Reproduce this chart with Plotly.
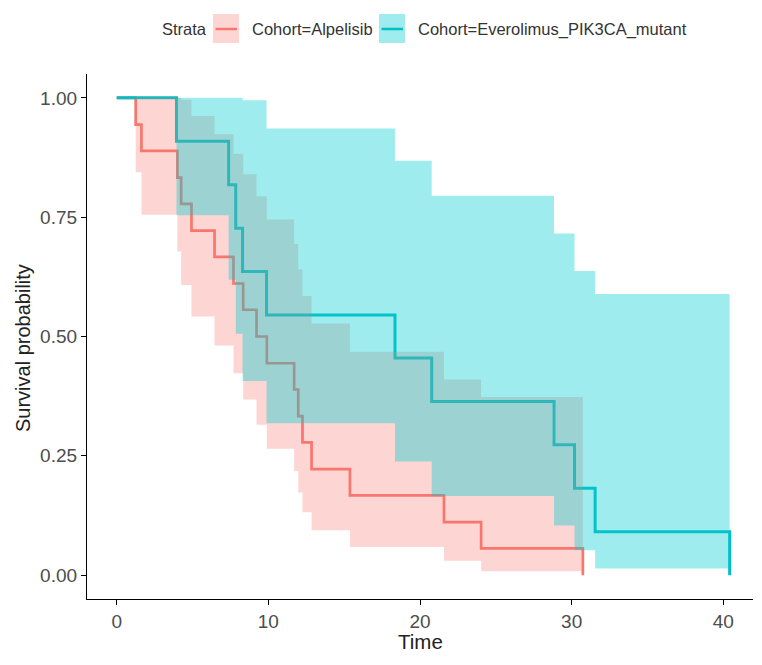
import plotly.graph_objects as go

# ---------------- data ----------------
# Alpelisib cohort: event times, survival after each event, 95% CI after each event
alp_time = [1.25, 1.63, 4.0, 4.25, 4.93, 6.45, 7.7, 8.34, 9.22, 9.9, 11.7, 11.97,
            12.25, 12.85, 15.38, 21.58, 24.03, 30.74]
alp_surv = [0.944, 0.889, 0.833, 0.778, 0.722, 0.667, 0.611, 0.556, 0.500, 0.444,
            0.389, 0.333, 0.278, 0.222, 0.167, 0.111, 0.056, 0.000]
alp_upper = [1.0, 1.0, 1.0, 0.996, 0.962, 0.924, 0.883, 0.840, 0.794, 0.745,
             0.694, 0.641, 0.585, 0.527, 0.468, 0.410, 0.373]
alp_lower = [0.844, 0.755, 0.678, 0.608, 0.542, 0.481, 0.423, 0.368, 0.315, 0.265,
             0.218, 0.173, 0.132, 0.094, 0.059, 0.030, 0.008]

# Everolimus PIK3CA mutant cohort
eve_time = [3.94, 7.38, 7.85, 8.3, 9.88, 18.35, 20.77, 28.84, 30.19, 31.55, 40.42]
eve_surv = [0.909, 0.818, 0.727, 0.636, 0.545, 0.455, 0.364, 0.273, 0.182, 0.091, 0.000]
eve_upper = [1.0, 1.0, 1.0, 0.995, 0.936, 0.868, 0.795, 0.716, 0.637, 0.589]
eve_lower = [0.754, 0.619, 0.506, 0.407, 0.318, 0.238, 0.166, 0.104, 0.052, 0.014]

x_ticks = [0, 10, 20, 30, 40]
y_ticks = [0.0, 0.25, 0.5, 0.75, 1.0]
y_tick_text = ["0.00", "0.25", "0.50", "0.75", "1.00"]
strata_names = ["Cohort=Alpelisib", "Cohort=Everolimus_PIK3CA_mutant"]

RED = "#F8766D"
TEAL = "#00BFC4"
RED_FILL = "rgba(248,118,109,0.30)"
TEAL_FILL = "rgba(0,205,210,0.38)"

W, H = 762, 665
ML, MR, MT, MB = 87, 9, 74, 66
PW, PH = W - ML - MR, H - MT - MB


def px(X):
    return (X - ML) / PW


def py(Y):
    return (H - MB - Y) / PH


def curve(times, surv):
    return [0] + list(times), [1.0] + list(surv)


def ribbon(times, upper, lower):
    starts = [0] + list(times[:-1])
    ends = list(times)
    U = [1.0] + list(upper)
    L = [1.0] + list(lower)
    xs, ys = [], []
    for s, e, u in zip(starts, ends, U):
        xs += [s, e]
        ys += [u, u]
    for s, e, l in reversed(list(zip(starts, ends, L))):
        xs += [e, s]
        ys += [l, l]
    xs.append(xs[0])
    ys.append(ys[0])
    return xs, ys


fig = go.Figure()

# curves first (ribbons are drawn over them, as in the reference)
cx, cy = curve(alp_time, alp_surv)
fig.add_trace(go.Scatter(x=cx, y=cy, mode="lines", line=dict(color=RED, width=2.7, shape="hv"),
                         name=strata_names[0], hoverinfo="skip"))
cx, cy = curve(eve_time, eve_surv)
fig.add_trace(go.Scatter(x=cx, y=cy, mode="lines", line=dict(color=TEAL, width=3, shape="hv"),
                         name=strata_names[1], hoverinfo="skip"))

rx, ry = ribbon(alp_time, alp_upper, alp_lower)
fig.add_trace(go.Scatter(x=rx, y=ry, mode="lines", fill="toself", fillcolor=RED_FILL,
                         line=dict(width=0, color=RED_FILL), hoverinfo="skip"))
rx, ry = ribbon(eve_time, eve_upper, eve_lower)
fig.add_trace(go.Scatter(x=rx, y=ry, mode="lines", fill="toself", fillcolor=TEAL_FILL,
                         line=dict(width=0, color=TEAL_FILL), hoverinfo="skip"))

FONT = "Liberation Sans, Arial, sans-serif"
axis_common = dict(showgrid=False, zeroline=False, showline=True, linecolor="black", linewidth=1.2,
                   ticks="outside", ticklen=5, tickwidth=1.2, tickcolor="black",
                   tickfont=dict(family=FONT, size=19, color="#4d4d4d"))

fig.update_layout(
    width=W, height=H,
    margin=dict(l=ML, r=MR, t=MT, b=MB),
    plot_bgcolor="white", paper_bgcolor="white",
    showlegend=False,
    xaxis=dict(range=[-1.96, 41.96], tickvals=x_ticks, **axis_common),
    yaxis=dict(range=[-0.05, 1.05], tickvals=y_ticks, ticktext=y_tick_text, **axis_common),
)

# axis titles
fig.add_annotation(x=px(420), y=py(641), xref="paper", yref="paper", text="Time", showarrow=False,
                   xanchor="center", yanchor="middle", font=dict(family=FONT, size=20.5, color="#222"))
fig.add_annotation(x=px(23), y=py(348), xref="paper", yref="paper", text="Survival probability",
                   showarrow=False, textangle=-90, xanchor="center", yanchor="middle",
                   font=dict(family=FONT, size=20, color="#222"))

# legend (drawn manually: filled key with line through it)
LEG_Y = 29
fig.add_annotation(x=px(160), y=py(LEG_Y), xref="paper", yref="paper", text="Strata", showarrow=False,
                   xanchor="left", yanchor="middle", font=dict(family=FONT, size=16.5, color="#333"))
keys = [(213, 250, RED_FILL, RED, strata_names[0]), (379, 416, TEAL_FILL, TEAL, strata_names[1])]
for kx, tx, fillc, linec, label in keys:
    fig.add_shape(type="rect", xref="paper", yref="paper", x0=px(kx), x1=px(kx + 26),
                  y0=py(43), y1=py(14), fillcolor=fillc, line=dict(width=0))
    fig.add_shape(type="line", xref="paper", yref="paper", x0=px(kx + 2.5), x1=px(kx + 24),
                  y0=py(LEG_Y), y1=py(LEG_Y), line=dict(color=linec, width=2.5))
    fig.add_annotation(x=px(tx), y=py(LEG_Y), xref="paper", yref="paper", text=label, showarrow=False,
                       xanchor="left", yanchor="middle", font=dict(family=FONT, size=16.5, color="#333"))

fig.write_html("out.html")
